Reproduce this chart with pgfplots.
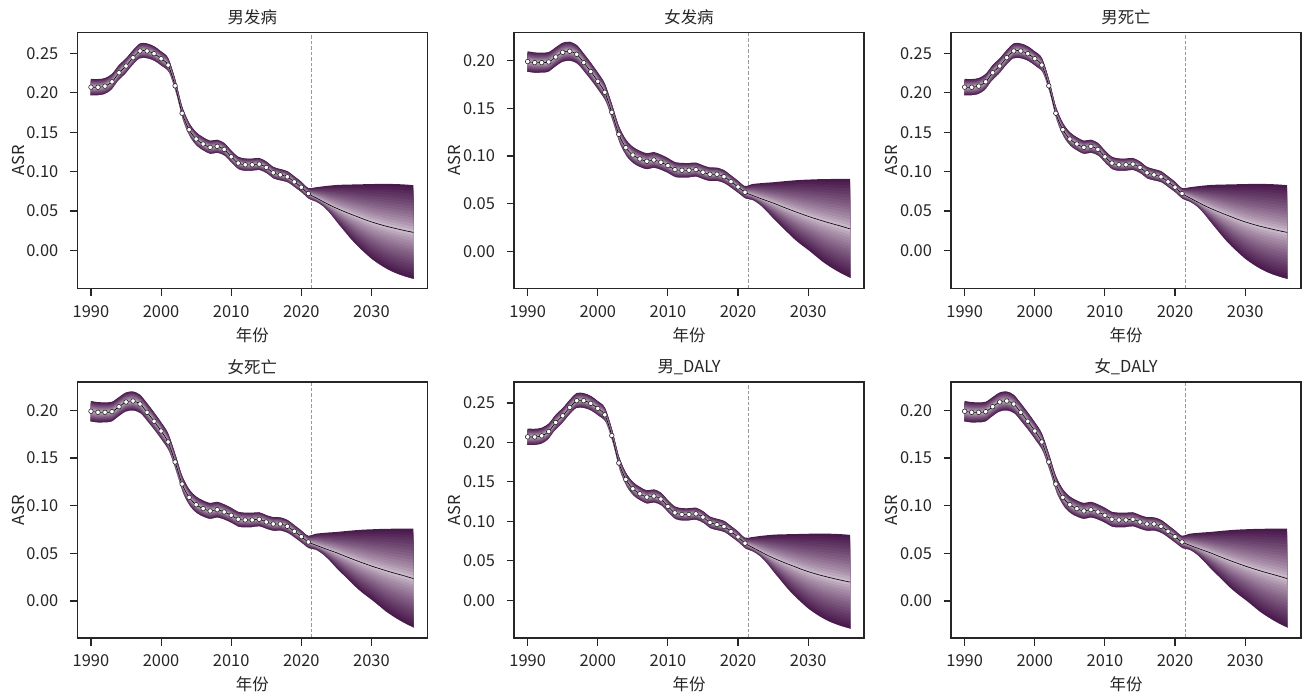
\documentclass[border=0pt]{standalone}
\usepackage{pgfplots}
\pgfplotsset{compat=1.18}
\usepackage{pgfplotstable}
\usepackage{fontspec}
\setmainfont{Noto Sans CJK SC}
\setsansfont{Noto Sans CJK SC}
\newcommand\fs{\fontsize{16.5}{19}\selectfont}

\definecolor{fdark}{HTML}{4A1A4D}
\definecolor{flight}{HTML}{DDD0DD}
\definecolor{spine}{HTML}{262626}
\colorlet{b1}{fdark!14!flight}
\colorlet{b2}{fdark!23!flight}
\colorlet{b3}{fdark!31!flight}
\colorlet{b4}{fdark!38!flight}
\colorlet{b5}{fdark!44!flight}
\colorlet{b6}{fdark!50!flight}
\colorlet{b7}{fdark!56!flight}
\colorlet{b8}{fdark!62!flight}
\colorlet{b9}{fdark!67!flight}
\colorlet{b10}{fdark!72!flight}
\colorlet{b11}{fdark!77!flight}
\colorlet{b12}{fdark!82!flight}
\colorlet{b13}{fdark!86!flight}
\colorlet{b14}{fdark!91!flight}
\colorlet{b15}{fdark!96!flight}
\colorlet{b16}{fdark}
% colours under the lower edges: one step darker
\colorlet{c1}{b2}\colorlet{c2}{b3}\colorlet{c3}{b4}\colorlet{c4}{b5}
\colorlet{c5}{b6}\colorlet{c6}{b7}\colorlet{c7}{b8}\colorlet{c8}{b9}
\colorlet{c9}{b10}\colorlet{c10}{b11}\colorlet{c11}{b12}\colorlet{c12}{b13}
\colorlet{c13}{b14}\colorlet{c14}{b15}\colorlet{c15}{b16}

% male series: observed 1990-2021, projection 2022-2036
\pgfplotstableread{
year med lo hi
1990 0.2071 0.1966 0.2176
1991 0.2070 0.1966 0.2174
1992 0.2084 0.1981 0.2187
1993 0.2139 0.2037 0.2241
1994 0.2254 0.2154 0.2354
1995 0.2339 0.2240 0.2438
1996 0.2445 0.2347 0.2543
1997 0.2530 0.2433 0.2627
1998 0.2530 0.2434 0.2626
1999 0.2496 0.2401 0.2591
2000 0.2432 0.2338 0.2526
2001 0.2351 0.2258 0.2444
2002 0.2088 0.1997 0.2179
2003 0.1740 0.1650 0.1830
2004 0.1532 0.1443 0.1621
2005 0.1413 0.1325 0.1501
2006 0.1350 0.1263 0.1437
2007 0.1307 0.1221 0.1393
2008 0.1320 0.1235 0.1405
2009 0.1282 0.1199 0.1365
2010 0.1188 0.1106 0.1270
2011 0.1108 0.1027 0.1189
2012 0.1087 0.1007 0.1167
2013 0.1087 0.1008 0.1166
2014 0.1095 0.1017 0.1173
2015 0.1053 0.0976 0.1130
2016 0.0985 0.0909 0.1061
2017 0.0959 0.0885 0.1033
2018 0.0934 0.0861 0.1007
2019 0.0870 0.0798 0.0942
2020 0.0802 0.0731 0.0873
2021 0.0722 0.0652 0.0792
2022 0.0672 0.0617 0.0800
2023 0.0625 0.0560 0.0812
2024 0.0578 0.0468 0.0822
2025 0.0536 0.0356 0.0830
2026 0.0498 0.0248 0.0834
2027 0.0462 0.0142 0.0836
2028 0.0428 0.0048 0.0838
2029 0.0393 -0.0035 0.0840
2030 0.0362 -0.0113 0.0842
2031 0.0335 -0.0175 0.0844
2032 0.0310 -0.0230 0.0845
2033 0.0288 -0.0275 0.0843
2034 0.0267 -0.0311 0.0840
2035 0.0247 -0.0340 0.0835
2036 0.0229 -0.0365 0.0828
}\male

% female series
\pgfplotstableread{
year med lo hi
1990 0.1990 0.1882 0.2098
1991 0.1979 0.1872 0.2086
1992 0.1979 0.1874 0.2084
1993 0.1986 0.1882 0.2090
1994 0.2038 0.1936 0.2140
1995 0.2087 0.1986 0.2188
1996 0.2098 0.1998 0.2198
1997 0.2066 0.1968 0.2164
1998 0.1979 0.1882 0.2076
1999 0.1885 0.1790 0.1980
2000 0.1783 0.1689 0.1877
2001 0.1668 0.1575 0.1761
2002 0.1458 0.1367 0.1549
2003 0.1227 0.1137 0.1317
2004 0.1087 0.0999 0.1175
2005 0.1010 0.0923 0.1097
2006 0.0969 0.0883 0.1055
2007 0.0944 0.0860 0.1028
2008 0.0958 0.0875 0.1041
2009 0.0934 0.0853 0.1015
2010 0.0899 0.0819 0.0979
2011 0.0857 0.0778 0.0936
2012 0.0850 0.0773 0.0927
2013 0.0850 0.0774 0.0926
2014 0.0857 0.0783 0.0931
2015 0.0829 0.0756 0.0902
2016 0.0808 0.0736 0.0880
2017 0.0808 0.0738 0.0878
2018 0.0783 0.0714 0.0852
2019 0.0731 0.0664 0.0798
2020 0.0675 0.0609 0.0741
2021 0.0619 0.0554 0.0684
2022 0.0588 0.0538 0.0705
2023 0.0560 0.0490 0.0713
2024 0.0533 0.0420 0.0719
2025 0.0507 0.0340 0.0724
2026 0.0477 0.0268 0.0731
2027 0.0448 0.0195 0.0738
2028 0.0420 0.0125 0.0744
2029 0.0393 0.0065 0.0749
2030 0.0367 0.0010 0.0752
2031 0.0343 -0.0050 0.0755
2032 0.0320 -0.0110 0.0757
2033 0.0298 -0.0160 0.0758
2034 0.0278 -0.0205 0.0759
2035 0.0257 -0.0245 0.0759
2036 0.0235 -0.0280 0.0759
}\female

\pgfplotsset{
  panel/.style={
    scale only axis, width=350bp, height=256bp,
    xmin=1988.05, xmax=2037.97,
    xtick={1990,2000,2010,2020,2030},
    axis on top,
    tick align=outside, tick pos=left,
    major tick length=7.5bp,
    every tick/.style={line width=1.1bp, spine},
    axis line style={line width=1.5bp, spine},
    tick label style={font=\fs, text=spine},
    label style={font=\fs, text=spine},
    title style={font=\fs, text=spine, yshift=-2bp},
    xlabel={年份}, ylabel={ASR},
    /pgf/number format/assume math mode=true,
    xticklabel style={/pgf/number format/1000 sep={}, yshift=-6bp},
    yticklabel style={/pgf/number format/fixed, /pgf/number format/fixed zerofill, /pgf/number format/precision=2, xshift=-8bp},
    scaled y ticks=false,
    xlabel shift=3bp, ylabel shift=-5bp,
  }
}

\newcommand\fanpanel[9]{% x, y, table, title, ymin, ymax, yticks, dash cut low, dash cut high
\begin{axis}[at={(#1bp,#2bp)}, anchor=south west, panel, title={#4}, ymin=#5, ymax=#6, ytick={#7}]
  % upper halves, outermost first
  \pgfplotsinvokeforeach{16,15,14,13,12,11,10,9,8,7,6,5,4,3,2,1}{
    \addplot[fill=b##1, draw=none, smooth, forget plot] table[x=year, y expr={\thisrow{med}+##1/16*(\thisrow{hi}-\thisrow{med})}] {#3} -- (axis cs:2036,-1) -- (axis cs:1990,-1) -- cycle;
  }
  % lower halves, innermost first
  \pgfplotsinvokeforeach{1,2,3,4,5,6,7,8,9,10,11,12,13,14,15}{
    \addplot[fill=c##1, draw=none, smooth, forget plot] table[x=year, y expr={\thisrow{med}-##1/16*(\thisrow{med}-\thisrow{lo})}] {#3} -- (axis cs:2036,-1) -- (axis cs:1990,-1) -- cycle;
  }
  \addplot[fill=white, draw=white, line width=2bp, smooth, forget plot] table[x=year, y expr={\thisrow{lo}-0.0011}] {#3} -- (axis cs:2036.3,-1) -- (axis cs:1989.7,-1) -- cycle;
  \addplot[forget plot, color=black!40, line width=0.8bp, dash pattern=on 3.5bp off 2bp] coordinates {(2021.5,#5) (2021.5,#8)};
  \addplot[forget plot, color=black!40, line width=0.8bp, dash pattern=on 3.5bp off 2bp] coordinates {(2021.5,#9) (2021.5,#6)};
  \addplot[only marks, mark=*, mark size=2.3bp, mark options={fill=white, draw=spine, line width=0.6bp}, restrict x to domain=1989:2021.2] table[x=year, y=med] {#3};
  \addplot[black, line width=0.6bp, smooth] table[x=year, y=med] {#3};
\end{axis}}

\begin{document}
\begin{tikzpicture}
\path[use as bounding box] (0,0) rectangle (1302bp,694bp);
\fanpanel{77.3}{405.7}{\male}{男发病}{-0.048}{0.2767}{0,0.05,...,0.25}{0.0630}{0.0800}
\fanpanel{514}{405.7}{\female}{女发病}{-0.0388}{0.2297}{0,0.05,...,0.2}{0.0542}{0.0698}
\fanpanel{951}{405.7}{\male}{男死亡}{-0.048}{0.2767}{0,0.05,...,0.25}{0.0630}{0.0800}
\fanpanel{77.3}{56}{\female}{女死亡}{-0.0388}{0.2297}{0,0.05,...,0.2}{0.0542}{0.0698}
\fanpanel{514}{56}{\male}{男\_DALY}{-0.048}{0.2767}{0,0.05,...,0.25}{0.0630}{0.0800}
\fanpanel{951}{56}{\female}{女\_DALY}{-0.0388}{0.2297}{0,0.05,...,0.2}{0.0542}{0.0698}
\end{tikzpicture}
\end{document}
